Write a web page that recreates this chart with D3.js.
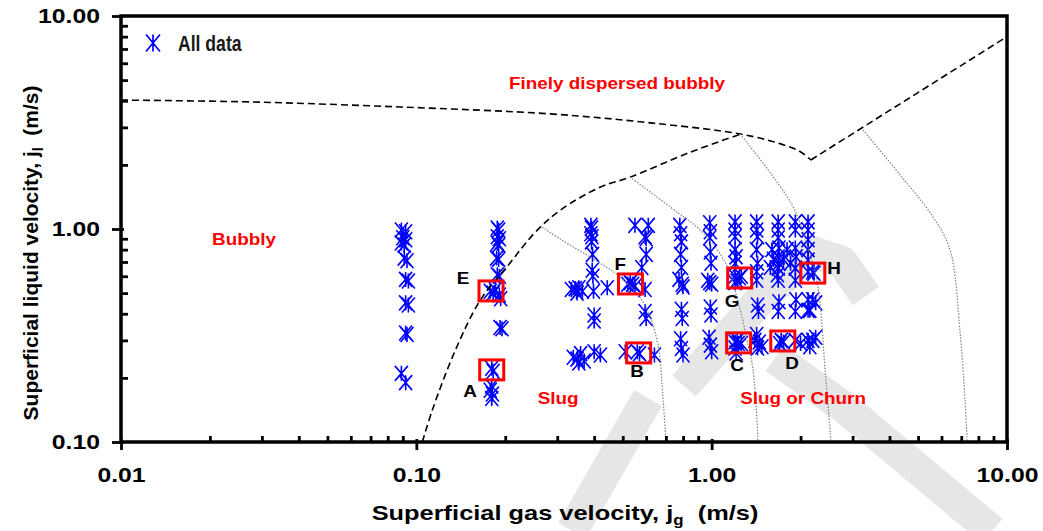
<!DOCTYPE html>
<html>
<head>
<meta charset="utf-8">
<script src="https://cdn.jsdelivr.net/npm/d3@7"></script>
<style>
  body { margin: 0; background: #fff; }
  text { font-family: "Liberation Sans", Arial, sans-serif; font-weight: bold; }
</style>
</head>
<body>
<svg id="chart" width="1043" height="531"></svg>
<script>
const WIDTH = 1043, HEIGHT = 531;
const SX = 1.18; // the original lettering is a bit wide

// tick labels
const xTicks = [0.01, 0.1, 1, 10];
const yTicks = [0.1, 1, 10];

// measured points [jg, jl] in m/s
const allData = [
  // jg ~ 0.09
  [0.089, 0.99], [0.092, 0.97], [0.090, 0.91], [0.092, 0.89], [0.089, 0.86], [0.091, 0.84],
  [0.091, 0.73], [0.093, 0.71], [0.092, 0.58], [0.094, 0.57], [0.092, 0.45], [0.094, 0.44],
  [0.092, 0.325], [0.093, 0.32], [0.089, 0.21], [0.092, 0.19],
  // jg ~ 0.18 - 0.19
  [0.188, 1.01], [0.190, 0.99], [0.188, 0.92], [0.191, 0.90], [0.188, 0.86], [0.190, 0.84],
  [0.187, 0.73], [0.190, 0.72], [0.188, 0.61], [0.191, 0.60], [0.178, 0.51], [0.182, 0.50],
  [0.185, 0.52], [0.193, 0.47], [0.191, 0.49], [0.192, 0.345], [0.195, 0.34],
  [0.180, 0.222], [0.182, 0.215], [0.180, 0.183], [0.178, 0.175], [0.181, 0.168], [0.180, 0.16],
  // jg ~ 0.35 - 0.44
  [0.335, 0.52], [0.345, 0.525], [0.355, 0.53], [0.365, 0.51], [0.350, 0.50],
  [0.340, 0.25], [0.350, 0.245], [0.360, 0.26], [0.370, 0.24], [0.355, 0.235],
  [0.390, 1.04], [0.392, 1.01], [0.390, 0.95], [0.393, 0.92], [0.392, 0.87], [0.395, 0.76],
  [0.394, 0.64], [0.396, 0.60], [0.398, 0.51], [0.400, 0.395], [0.400, 0.37], [0.400, 0.265],
  [0.420, 0.256], [0.443, 0.53],
  // jg ~ 0.5 - 0.65
  [0.550, 1.04], [0.610, 1.04], [0.595, 0.92], [0.600, 0.90], [0.600, 0.76], [0.580, 0.66],
  [0.520, 0.55], [0.530, 0.56], [0.540, 0.55], [0.550, 0.54], [0.595, 0.52], [0.595, 0.41],
  [0.600, 0.38], [0.510, 0.265], [0.560, 0.265], [0.570, 0.26], [0.640, 0.256],
  // jg ~ 0.79
  [0.780, 1.04], [0.785, 0.95], [0.790, 0.87], [0.785, 0.76], [0.790, 0.66], [0.775, 0.58],
  [0.795, 0.55], [0.800, 0.535], [0.790, 0.42], [0.795, 0.38], [0.785, 0.305], [0.790, 0.275],
  [0.800, 0.256],
  // jg ~ 1.0
  [0.985, 1.07], [0.990, 0.97], [0.985, 0.91], [0.990, 0.78], [0.995, 0.69], [0.970, 0.575],
  [0.985, 0.56], [1.000, 0.55], [0.990, 0.43], [0.995, 0.395], [0.980, 0.31], [0.990, 0.285],
  [1.000, 0.265],
  // jg ~ 1.2
  [1.20, 1.08], [1.20, 0.99], [1.20, 0.92], [1.20, 0.80], [1.21, 0.74], [1.20, 0.69],
  [1.20, 0.60], [1.24, 0.59], [1.26, 0.60], [1.22, 0.57], [1.20, 0.56], [1.20, 0.295],
  [1.23, 0.29], [1.26, 0.29], [1.22, 0.30], [1.20, 0.276], [1.21, 0.262],
  // jg ~ 1.4
  [1.42, 1.08], [1.42, 0.99], [1.43, 0.92], [1.42, 0.80], [1.43, 0.69], [1.42, 0.63],
  [1.42, 0.575], [1.43, 0.44], [1.44, 0.41], [1.42, 0.32], [1.45, 0.295], [1.40, 0.30],
  [1.48, 0.28], [1.43, 0.276],
  // jg ~ 1.6 - 1.8
  [1.68, 1.08], [1.68, 0.99], [1.68, 0.91], [1.69, 0.815], [1.68, 0.74], [1.69, 0.69],
  [1.68, 0.655], [1.67, 0.61], [1.68, 0.575], [1.69, 0.455], [1.68, 0.41], [1.72, 0.30],
  [1.75, 0.295], [1.70, 0.29], [1.60, 0.80], [1.62, 0.72], [1.75, 0.72], [1.80, 0.80],
  [1.58, 0.66], [1.85, 0.69],
  // jg ~ 1.9
  [1.92, 1.08], [1.92, 0.99], [1.92, 0.815], [1.93, 0.74], [1.92, 0.655], [1.92, 0.575],
  [1.93, 0.465], [1.92, 0.41], [1.92, 0.30], [2.00, 0.29],
  // jg ~ 2.1 - 2.3
  [2.12, 1.08], [2.12, 0.99], [2.12, 0.89], [2.12, 0.80], [2.12, 0.715], [2.12, 0.63],
  [2.20, 0.628], [2.22, 0.62], [2.12, 0.465], [2.12, 0.415], [2.12, 0.30], [2.20, 0.465],
  [2.25, 0.45], [2.15, 0.415], [2.20, 0.30], [2.25, 0.31], [2.15, 0.28]
];

// highlighted cases
const boxLabels = ["E", "A", "F", "B", "G", "C", "D", "H"];
const boxJg = [0.179, 0.180, 0.531, 0.566, 1.244, 1.234, 1.741, 2.20];
const boxJl = [0.512, 0.218, 0.552, 0.262, 0.589, 0.292, 0.298, 0.621];
const letterJg = [0.144, 0.152, 0.490, 0.559, 1.172, 1.219, 1.872, 2.597];
const letterJl = [0.558, 0.1644, 0.649, 0.204, 0.435, 0.218, 0.2225, 0.621];

// flow regime boundaries
const upperBoundary = [[0.01, 4.03], [0.0274, 3.95], [0.0883, 3.74], [0.2845, 3.47], [0.621, 3.15],
  [1.254, 2.79], [1.713, 2.51], [2.003, 2.30], [2.166, 2.109]];
const lowerBoundary = [[0.1048, 0.1], [0.1133, 0.1413], [0.1356, 0.27], [0.1648, 0.464], [0.205, 0.678],
  [0.2532, 0.968], [0.3077, 1.228], [0.4204, 1.575], [0.5314, 1.754], [0.8487, 2.298], [1.254, 2.79]];
const churnBoundary = [[2.166, 2.109], [10, 8.0]];
const dottedLines = [
  [[0.267, 1.02], [0.307, 0.897], [0.419, 0.692], [0.49, 0.595], [0.586, 0.454], [0.653, 0.301], [0.685, 0.157], [0.70, 0.1]],
  [[0.529, 1.754], [0.764, 1.2], [0.914, 0.989], [1.11, 0.70], [1.229, 0.454], [1.318, 0.301], [1.381, 0.218], [1.436, 0.1]],
  [[1.248, 2.79], [1.872, 1.296], [2.121, 0.814], [2.293, 0.528], [2.421, 0.218], [2.537, 0.1]],
  [[3.257, 2.916], [4.345, 1.793], [5.62, 1.138], [6.417, 0.797], [6.94, 0.325], [7.21, 0.157], [7.33, 0.1]]
];

const regionNames = ["Finely dispersed bubbly", "Bubbly", "Slug", "Slug or Churn"];
const regionJg = [0.478, 0.0261, 0.302, 2.04];
const regionJl = [4.54, 0.841, 0.151, 0.151];

const svg = d3.select("#chart");
const x = d3.scaleLog().domain([0.01, 10]).range([121, 1007]);
const y = d3.scaleLog().domain([0.1, 10]).range([442, 16]);

// faint watermark bands behind the plot
const watermark = [
  [[572, 531], [648, 398]],
  [[684, 386], [760, 300], [812, 252], [842, 262], [866, 296]],
  [[775, 358], [845, 408], [992, 531]]
];
svg.append("g")
  .selectAll("path")
  .data(watermark)
  .join("path")
  .attr("d", d3.line())
  .attr("fill", "none")
  .attr("stroke", "#e6e6e6")
  .attr("stroke-width", 32)
  .attr("stroke-linejoin", "round");

// data markers: asterisk (vertical bar plus a cross)
const star = "M0,-7.5V7.5M-6.5,-7.5L6.5,7.5M6.5,-7.5L-6.5,7.5";
svg.append("g")
  .selectAll("path")
  .data(allData)
  .join("path")
  .attr("transform", (d) => `translate(${x(d[0])},${y(d[1])})`)
  .attr("d", star)
  .attr("fill", "none")
  .attr("stroke", "#0000ff")
  .attr("stroke-width", 1.6);

// boundaries
const line = d3.line().x((d) => x(d[0])).y((d) => y(d[1])).curve(d3.curveCatmullRom);
const lines = svg.append("g").attr("fill", "none");
lines.selectAll(".dash")
  .data([upperBoundary, lowerBoundary, churnBoundary])
  .join("path")
  .attr("class", "dash")
  .attr("d", line)
  .attr("stroke", "#000")
  .attr("stroke-width", 1.6)
  .attr("stroke-dasharray", "7,4");
lines.selectAll(".dot")
  .data(dottedLines)
  .join("path")
  .attr("class", "dot")
  .attr("d", line)
  .attr("stroke", "#808080")
  .attr("stroke-width", 1.2)
  .attr("stroke-dasharray", "1.5,1.5");

// red boxes and letters
svg.append("g")
  .selectAll("rect")
  .data(boxLabels)
  .join("rect")
  .attr("x", (d, i) => x(boxJg[i]) - 12)
  .attr("y", (d, i) => y(boxJl[i]) - 10)
  .attr("width", 24)
  .attr("height", 20)
  .attr("fill", "none")
  .attr("stroke", "#ff0000")
  .attr("stroke-width", 3);

svg.append("g")
  .selectAll("text")
  .data(boxLabels)
  .join("text")
  .attr("transform", (d, i) => `translate(${x(letterJg[i])},${y(letterJl[i]) + 1}) scale(${SX},1)`)
  .attr("text-anchor", "middle")
  .attr("font-size", 16)
  .attr("fill", "#000")
  .text((d) => d);

svg.append("g")
  .selectAll("text")
  .data(regionNames)
  .join("text")
  .attr("transform", (d, i) => `translate(${x(regionJg[i])},${y(regionJl[i])}) scale(${SX},1)`)
  .attr("text-anchor", "middle")
  .attr("font-size", 16)
  .attr("fill", "#ff0000")
  .text((d) => d);

// legend
const legend = svg.append("g").attr("transform", "translate(153,43)");
legend.append("path")
  .attr("d", "M0,-8.5V8.5M-7,-8.5L7,8.5M7,-8.5L-7,8.5")
  .attr("fill", "none")
  .attr("stroke", "#0000ff")
  .attr("stroke-width", 1.7);
legend.append("text")
  .attr("transform", "translate(25,8) scale(0.8,1)")
  .attr("font-size", 22)
  .attr("fill", "#1a1a1a")
  .text("All data");

// frame
svg.append("rect")
  .attr("x", 121).attr("y", 16)
  .attr("width", 1007 - 121).attr("height", 442 - 16)
  .attr("fill", "none")
  .attr("stroke", "#000")
  .attr("stroke-width", 3.5);

// axes
const xMinor = x.ticks().filter((d) => !xTicks.some((t) => Math.abs(t - d) < 1e-9));
const yMinor = y.ticks().filter((d) => !yTicks.some((t) => Math.abs(t - d) < 1e-9));

const xAxisG = svg.append("g").attr("transform", "translate(0,442)");
xAxisG.append("g")
  .call(d3.axisBottom(x).tickValues(xMinor).tickSize(-6).tickFormat(""))
  .call((g) => g.select(".domain").remove());
xAxisG.append("g")
  .call(d3.axisBottom(x).tickValues(xTicks).tickSize(8).tickPadding(17).tickFormat(d3.format(".2f")))
  .call((g) => g.select(".domain").remove())
  .call((g) => g.selectAll("line").attr("y1", -3))
  .call((g) => g.selectAll("text").attr("transform", `scale(${SX},1)`));

const yAxisG = svg.append("g").attr("transform", "translate(121,0)");
yAxisG.append("g")
  .call(d3.axisLeft(y).tickValues(yMinor).tickSize(-7).tickFormat(""))
  .call((g) => g.select(".domain").remove());
yAxisG.append("g")
  .call(d3.axisLeft(y).tickValues(yTicks).tickSize(9).tickPadding(12).tickFormat(d3.format(".2f")))
  .call((g) => g.select(".domain").remove())
  .call((g) => g.selectAll("line").attr("x1", 3))
  .call((g) => g.selectAll("text").attr("x", -21 / SX).attr("transform", `scale(${SX},1)`));

svg.selectAll(".tick line").attr("stroke", "#000").attr("stroke-width", 2.8);
svg.selectAll(".tick text").attr("font-size", 21).attr("font-family", null).attr("fill", "#000");

// axis titles
const xTitle = svg.append("text")
  .attr("transform", `translate(565,520) scale(1.21,1)`)
  .attr("text-anchor", "middle")
  .attr("font-size", 21)
  .style("white-space", "pre");
xTitle.append("tspan").text("Superficial gas velocity, j");
xTitle.append("tspan").attr("font-size", 14).attr("dy", 5).text("g");
xTitle.append("tspan").attr("dy", -5).text("  (m/s)");

const yTitle = svg.append("text")
  .attr("transform", "translate(38,253) rotate(-90)")
  .attr("text-anchor", "middle")
  .attr("font-size", 21)
  .style("white-space", "pre");
yTitle.append("tspan").text("Superficial liquid velocity, j");
yTitle.append("tspan").attr("font-size", 14).attr("dy", 5).text("l");
yTitle.append("tspan").attr("dy", -5).text("  (m/s)");
</script>
</body>
</html>
